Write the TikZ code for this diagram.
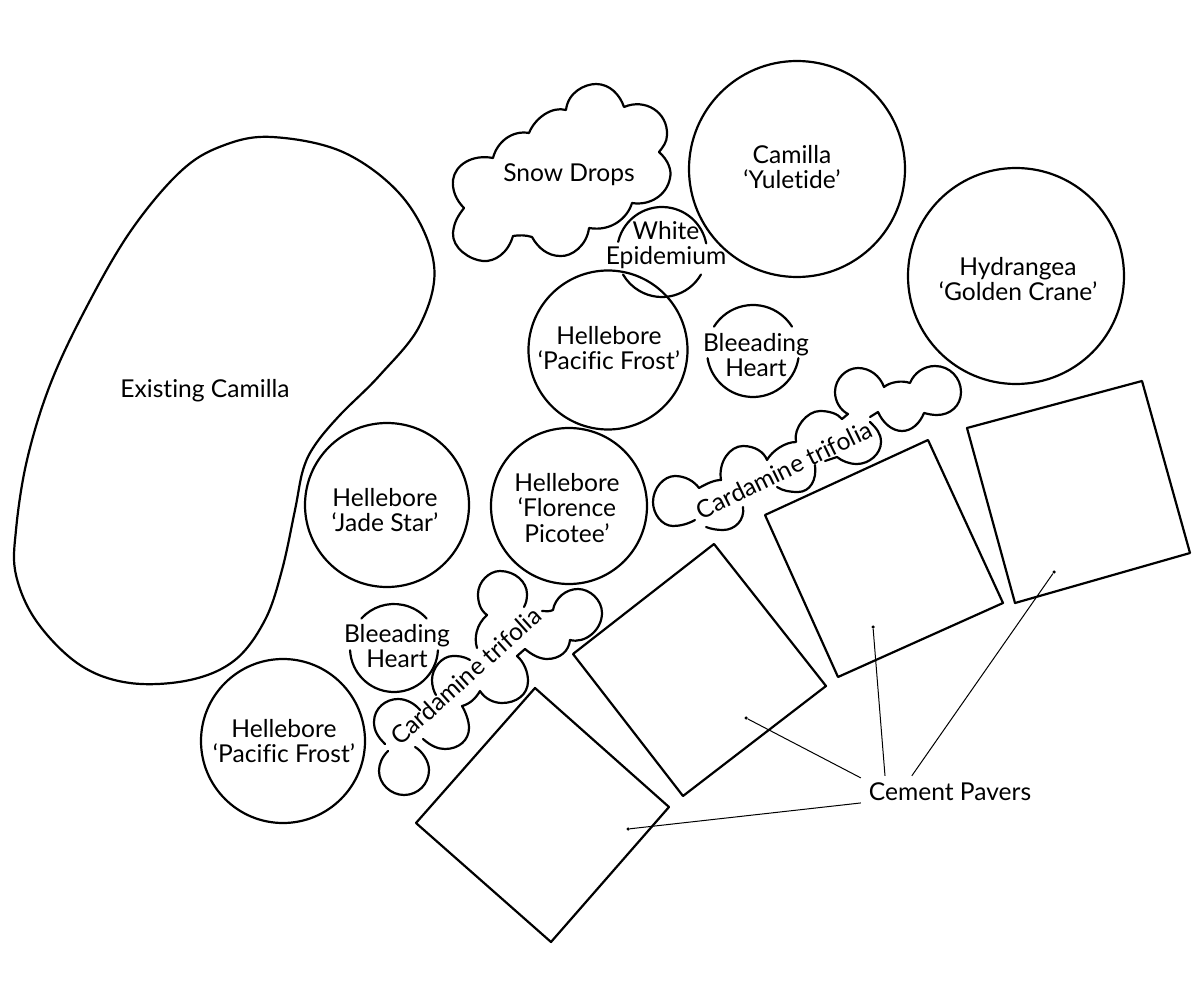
\documentclass[tikz,border=0pt]{standalone}
\usepackage{fontspec}
\setmainfont{Lato}[Ligatures = CommonOff]

\tikzset{
  outline/.style = {line width = 2.2pt, line join = round, line cap = round},
  leader/.style = {line width = 1pt},
  dot/.style = {circle, fill = black, inner sep = 0pt, minimum size = 3.5pt},
  plantname/.style = {align = center, inner sep = 0pt, font = \fontsize{24.6}{25.2}\selectfont}
}

\begin{document}
\begin{tikzpicture}[x = 1pt, y = -1pt]
  \useasboundingbox (0, 0) rectangle (1200, 1000);

  % existing shrub
  \draw[outline] plot[smooth cycle, tension = 0.6] coordinates {
    (272,137) (345,153) (405,200) (434,265) (420,325) (380,375) (340,415)
    (315,445) (303,470) (295,510) (282,570) (265,620) (235,660) (190,680)
    (130,683) (80,665) (37,622) (16,575) (16,530) (27,460) (50,385) (85,310)
    (130,232) (180,172) (222,146)};
  \node[plantname] (existing) at (205, 391) {Existing Camilla};

  % full circles
  \draw[outline] (797, 169) circle (108);
  \draw[outline] (1016, 276) circle (108);
  \draw[outline] (608, 350) circle (79.5);
  \draw[outline] (387, 505) circle (82);
  \draw[outline] (569, 506) circle (78);
  \draw[outline] (283, 741) circle (82);

  \node[plantname] (yuletide) at (792, 167) {Camilla\\‘Yuletide’};
  \node[plantname] (crane) at (1018, 279) {Hydrangea\\‘Golden Crane’};
  \node[plantname] (frostTop) at (609, 348) {Hellebore\\‘Pacific Frost’};
  \node[plantname] (jade) at (385, 510) {Hellebore\\‘Jade Star’};
  \node[plantname] (picotee) at (567, 508) {Hellebore\\‘Florence\\Picotee’};
  \node[plantname] (frostLow) at (284, 741) {Hellebore\\‘Pacific Frost’};

  % broken circles (y runs down, so angles run clockwise)
  \draw[outline] (753, 351) ++(-148:46) arc (-148:-32:46);
  \draw[outline] (753, 351) ++(9:46) arc (9:171:46);
  \node[plantname] (heartTop) at (756, 355) {Bleeading\\Heart};

  \draw[outline] (394, 648) ++(-138:44) arc (-138:-42:44);
  \draw[outline] (394, 648) ++(3:44) arc (3:177:44);
  \node[plantname] (heartLow) at (397, 646) {Bleeading\\Heart};

  \draw[outline] (662, 252) ++(-167:45) arc (-167:-11:45);
  \draw[outline] (662, 252) ++(30:45) arc (30:150:45);
  \node[plantname] (epidemium) at (666, 245) {White\\Epidemium};

  % snow drops
  \draw[outline] (493,158) .. controls (497,142) and (512,130) .. (529,133)
    .. controls (535,118) and (552,106) .. (566,110)
    .. controls (568,92) and (585,84) .. (596,84)
    .. controls (610,84) and (620,95) .. (624,107)
    .. controls (645,98) and (668,112) .. (667,135)
    .. controls (667,142) and (663,147) .. (659,152)
    .. controls (668,160) and (672,170) .. (670,178)
    .. controls (667,195) and (650,206) .. (632,203)
    .. controls (628,217) and (612,232) .. (589,228)
    .. controls (587,245) and (572,257) .. (560,256)
    .. controls (548,256) and (538,248) .. (532,237)
    .. controls (526,235) and (519,235) .. (513,236)
    .. controls (508,253) and (495,262) .. (483,261)
    .. controls (470,260) and (452,248) .. (453,233)
    .. controls (454,222) and (458,216) .. (464,208)
    .. controls (456,200) and (452,190) .. (453,180)
    .. controls (455,165) and (472,154) .. (493,158) -- cycle;
  \node[plantname] (snow) at (569, 175) {Snow Drops};

  % cardamine, lower patch
  \draw[outline] (385,744) .. controls (378,737) and (374,731) .. (374,722)
    .. controls (374,708) and (386,699) .. (398,699)
    .. controls (407,699) and (415,704) .. (420,710);
  \draw[outline] (388,751) .. controls (382,757) and (379,764) .. (379,771)
    .. controls (379,784) and (391,795) .. (404,795)
    .. controls (418,795) and (429,784) .. (429,770)
    .. controls (429,761) and (422,751) .. (415,747);
  \draw[outline] (423,739) .. controls (431,746) and (438,749) .. (445,749)
    .. controls (459,749) and (469,740) .. (469,728)
    .. controls (469,720) and (465,711) .. (462,706)
    .. controls (470,704) and (476,698) .. (480,691)
    .. controls (485,699) and (494,703) .. (502,703)
    .. controls (516,703) and (528,695) .. (528,681)
    .. controls (528,672) and (524,662) .. (517,656)
    -- (525,649)
    .. controls (532,655) and (540,659) .. (547,659)
    .. controls (560,659) and (569,651) .. (570,640)
    .. controls (585,644) and (602,630) .. (602,613)
    .. controls (602,600) and (590,589) .. (578,589)
    .. controls (566,589) and (555,598) .. (553,610)
    .. controls (549,612) and (546,611) .. (542,611);
  \draw[outline] (470,660) .. controls (463,656) and (458,656) .. (453,656)
    .. controls (442,656) and (432,668) .. (432,680)
    .. controls (432,686) and (434,692) .. (436,695);
  \draw[outline] (477,648) .. controls (474,638) and (476,625) .. (487,615)
    .. controls (480,610) and (478,602) .. (478,594)
    .. controls (478,582) and (489,571) .. (500,571)
    .. controls (515,571) and (527,582) .. (527,594)
    .. controls (527,600) and (526,603) .. (524,607);
  \node[plantname, rotate = 42] (cardamineLow) at (466, 676) {Cardamine trifolia};

  % cardamine, upper patch
  \draw[outline] (695,520) .. controls (688,524) and (680,526) .. (673,526)
    .. controls (662,526) and (653,514) .. (653,502)
    .. controls (653,488) and (664,476) .. (675,476)
    .. controls (685,476) and (694,481) .. (699,488)
    .. controls (706,484) and (714,480) .. (721,480)
    .. controls (718,462) and (730,446) .. (743,446)
    .. controls (755,446) and (764,452) .. (767,460)
    .. controls (772,451) and (785,442) .. (796,442)
    .. controls (793,428) and (807,411) .. (820,411)
    .. controls (830,411) and (838,414) .. (842,419)
    -- (848,414)
    .. controls (840,410) and (835,401) .. (835,392)
    .. controls (835,379) and (846,368) .. (858,368)
    .. controls (870,368) and (880,376) .. (884,387)
    .. controls (890,382) and (902,380) .. (910,383)
    .. controls (914,373) and (924,366) .. (935,366)
    .. controls (950,366) and (961,378) .. (961,392)
    .. controls (961,406) and (950,415) .. (937,415)
    .. controls (932,415) and (928,414) .. (924,413)
    .. controls (920,423) and (912,431) .. (902,431)
    .. controls (892,431) and (883,423) .. (878,412)
    -- (870,417);
  \draw[outline] (870,422) .. controls (876,428) and (881,433) .. (881,442)
    .. controls (881,454) and (869,464) .. (857,464)
    .. controls (849,464) and (842,461) .. (837,457)
    -- (825,461);
  \draw[outline] (815,465) .. controls (817,480) and (810,492) .. (798,492)
    .. controls (790,492) and (783,491) .. (777,487);
  \draw[outline] (743,507) .. controls (745,520) and (735,530) .. (723,530)
    .. controls (717,530) and (711,529) .. (706,527);
  \node[plantname, rotate = 26] (cardamineTop) at (784, 470) {Cardamine trifolia};

  % pavers
  \draw[outline] (535,688) -- (669,807) -- (551,942) -- (416,823) -- cycle;
  \draw[outline] (714,544) -- (826,686) -- (683,796) -- (573,654) -- cycle;
  \draw[outline] (928,440) -- (1003,603) -- (838,677) -- (765,515) -- cycle;
  \draw[outline] (1142,381) -- (1190,553) -- (1015,603) -- (967,428) -- cycle;

  \node[plantname, minimum width = 178pt, minimum height = 32pt] (pavers) at (950, 792) {Cement Pavers};
  \node[dot] (dotA) at (628, 829) {};
  \node[dot] (dotB) at (746, 718) {};
  \node[dot] (dotC) at (873, 627) {};
  \node[dot] (dotD) at (1054, 572) {};

  \draw[leader] (pavers.187.7) -- (dotA);
  \draw[leader] (pavers.171.7) -- (dotB);
  \draw[leader] (pavers.166.6) -- (dotC);
  \draw[leader] (pavers.157.7) -- (dotD);
\end{tikzpicture}
\end{document}
